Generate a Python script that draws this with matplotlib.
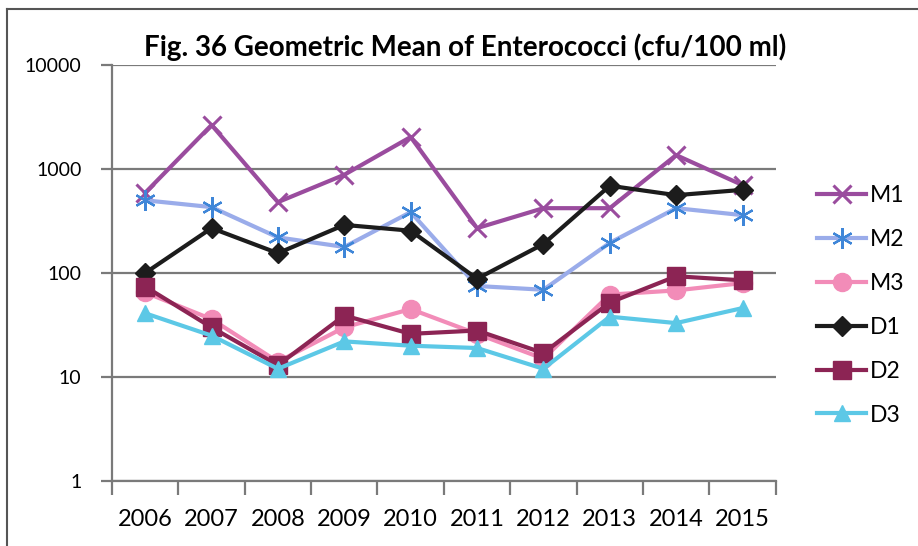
import numpy as np
import matplotlib
matplotlib.use("Agg")
import matplotlib.pyplot as plt
from matplotlib.ticker import FixedLocator, FuncFormatter, NullFormatter
from matplotlib.lines import Line2D

plt.rcParams["font.family"] = ["Lato", "DejaVu Sans"]

## Geometric means of enterococci counts, cfu/100 ml, per site and year
years = ["2006", "2007", "2008", "2009", "2010", "2011", "2012", "2013", "2014", "2015"]
m1 = [590, 2650, 480, 880, 2030, 270, 420, 420, 1360, 700]
m2 = [500, 430, 220, 178, 385, 75, 69, 195, 420, 360]
m3 = [65, 36, 14, 30, 45, 26, 15, 62, 68, 80]
d1 = [100, 270, 155, 290, 255, 88, 190, 690, 560, 630]
d2 = [74, 30, 13, 39, 26, 28, 17, 52, 93, 85]
d3 = [41, 25, 12, 22, 20, 19, 12, 38, 33, 46]

x = np.arange(len(years))

fig = plt.figure(figsize=(9.18, 5.46), dpi=100)
ax = fig.add_axes([0.122, 0.119, 0.723, 0.762])

grey = "#7a7a7a"
lw = 3.0

ax.plot(x, m1, color="#9a4c9e", lw=lw, marker="x", ms=13, mew=2.2, label="M1")
ax.plot(x, m2, color="#9aacea", lw=lw, marker=(6, 2, 0), ms=15, mew=1.6,
        mec="#3f86d8", label="M2")
ax.plot(x, m3, color="#f28cb8", lw=lw, marker="o", ms=13, label="M3")
ax.plot(x, d1, color="#1c1c1c", lw=lw, marker="D", ms=10, label="D1")
ax.plot(x, d2, color="#8c2454", lw=lw, marker="s", ms=13, label="D2")
ax.plot(x, d3, color="#5cc8e6", lw=lw, marker="^", ms=12, label="D3")

ax.set_yscale("log")
ax.set_ylim(1, 10000)
ax.set_xlim(-0.5, len(years) - 0.5)

ax.yaxis.set_major_locator(FixedLocator([1, 10, 100, 1000, 10000]))
ax.yaxis.set_minor_locator(FixedLocator([]))
ax.yaxis.set_major_formatter(FuncFormatter(lambda v, p: "%d" % round(v)))
ax.grid(axis="y", color=grey, lw=1.6)
ax.set_axisbelow(True)

# year boundaries carry the ticks, year labels sit between them
ax.xaxis.set_major_locator(FixedLocator(np.arange(len(years) + 1) - 0.5))
ax.xaxis.set_major_formatter(NullFormatter())
ax.xaxis.set_minor_locator(FixedLocator(x))
ax.set_xticks(x, years, minor=True)
ax.tick_params(axis="x", which="major", length=10, width=1.6, color=grey)
ax.tick_params(axis="x", which="minor", length=0, pad=20, labelsize=17)
ax.tick_params(axis="y", length=8, width=1.6, color=grey, labelsize=14, pad=14)

for side in ["top", "right"]:
    ax.spines[side].set_visible(False)
for side in ["left", "bottom"]:
    ax.spines[side].set_color(grey)
    ax.spines[side].set_linewidth(1.6)

fig.text(0.507, 0.913, "Fig. 36 Geometric Mean of Enterococci (cfu/100 ml)",
         ha="center", va="center", fontsize=20, fontweight="bold")

fig.legend(loc="center left", bbox_to_anchor=(0.878, 0.441), frameon=False,
           fontsize=16.5, borderpad=0, labelspacing=1.0, handlelength=2.1,
           handletextpad=0.2)

# outer frame of the chart box
fig.add_artist(Line2D([0.008, 0.008], [0.0, 0.984], transform=fig.transFigure,
                      color="#555555", lw=1.5))
fig.add_artist(Line2D([0.008, 1.0], [0.984, 0.984], transform=fig.transFigure,
                      color="#555555", lw=1.5))

fig.savefig("out.png", dpi=100)
